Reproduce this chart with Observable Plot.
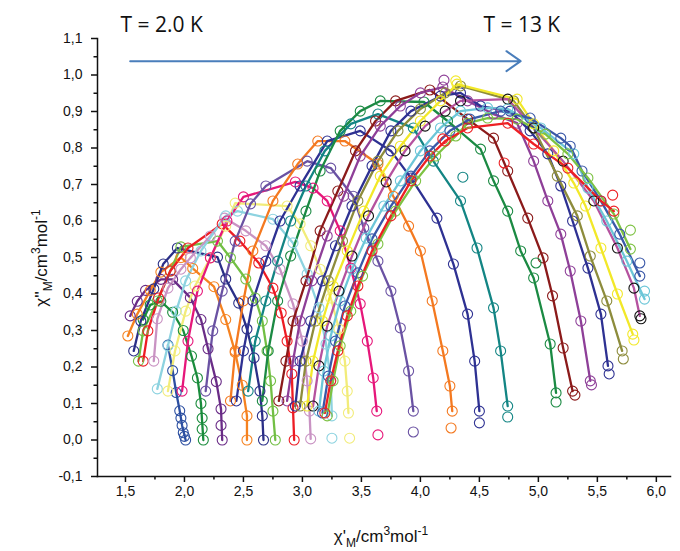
<!DOCTYPE html>
<html>
<head>
<meta charset="utf-8">
<script src="https://cdn.jsdelivr.net/npm/d3@7"></script>
<script src="https://cdn.jsdelivr.net/npm/@observablehq/plot@0.6"></script>
<style>
  html, body { margin: 0; padding: 0; background: #fff; }
  #chart { width: 680px; height: 551px; }
</style>
</head>
<body>
<div id="chart"></div>
<script>
// ---- tick values ----
const xMajor = [1.5, 2.0, 2.5, 3.0, 3.5, 4.0, 4.5, 5.0, 5.5, 6.0];
const xMinor = [1.75, 2.25, 2.75, 3.25, 3.75, 4.25, 4.75, 5.25, 5.75];
const yMajor = [-0.1, 0.0, 0.1, 0.2, 0.3, 0.4, 0.5, 0.6, 0.7, 0.8, 0.9, 1.0, 1.1];
const yMinor = [-0.05, 0.05, 0.15, 0.25, 0.35, 0.45, 0.55, 0.65, 0.75, 0.85, 0.95, 1.05];

// ---- series (chi', chi'') from 2.0 K (s01) to 13 K (s26) ----
const s01 = [[1.86,0.26],[1.90,0.19],[1.93,0.13],[1.96,0.08],[1.98,0.04],[2.01,0.00]];
const s02 = [[1.65,0.33],[1.71,0.37],[1.80,0.38],[1.90,0.35],[1.99,0.30],[2.06,0.23],[2.11,0.17],[2.14,0.10],[2.16,0.00]];
const s03 = [[1.54,0.34],[1.60,0.38],[1.67,0.41],[1.80,0.44],[1.90,0.44],[2.05,0.39],[2.14,0.33],[2.20,0.25],[2.27,0.16],[2.31,0.085],[2.32,0.00]];
const s04 = [[1.52,0.285],[1.60,0.345],[1.71,0.41],[1.80,0.46],[1.97,0.50],[2.07,0.47],[2.25,0.42],[2.35,0.33],[2.43,0.24],[2.49,0.15],[2.53,0.066],[2.53,0.00]];
const s05 = [[1.57,0.244],[1.63,0.326],[1.74,0.414],[1.82,0.482],[1.94,0.526],[2.28,0.501],[2.35,0.441],[2.46,0.375],[2.53,0.304],[2.59,0.225],[2.64,0.134],[2.66,0.066],[2.67,0.00]];
const s06 = [[1.61,0.216],[1.65,0.299],[1.77,0.381],[1.88,0.463],[1.97,0.529],[2.28,0.545],[2.39,0.499],[2.52,0.441],[2.60,0.389],[2.66,0.326],[2.70,0.244],[2.73,0.162],[2.75,0.079],[2.77,0.00]];
const s07 = [[1.65,0.216],[1.69,0.299],[1.78,0.389],[1.88,0.463],[2.03,0.526],[2.32,0.592],[2.47,0.545],[2.63,0.485],[2.75,0.416],[2.82,0.348],[2.87,0.271],[2.91,0.181],[2.92,0.088],[2.93,0.00]];
const s08 = [[1.74,0.216],[1.77,0.332],[1.86,0.416],[1.97,0.468],[2.05,0.499],[2.22,0.559],[2.34,0.608],[2.52,0.573],[2.69,0.532],[2.81,0.468],[2.92,0.373],[3.00,0.271],[3.04,0.162],[3.06,0.079],[3.07,0.003]];
const s09 = [[1.77,0.140],[1.86,0.258],[1.93,0.353],[2.01,0.436],[2.14,0.518],[2.35,0.614],[2.45,0.627],[2.75,0.605],[2.92,0.540],[3.04,0.455],[3.14,0.362],[3.20,0.263],[3.24,0.162],[3.25,0.066]];
const s10 = [[1.86,0.134],[1.92,0.244],[2.01,0.353],[2.09,0.422],[2.22,0.499],[2.35,0.586],[2.43,0.649],[2.87,0.641],[2.98,0.592],[3.07,0.532],[3.15,0.468],[3.24,0.389],[3.31,0.304],[3.36,0.216],[3.38,0.134],[3.39,0.074]];
const s11 = [[1.98,0.134],[2.03,0.271],[2.11,0.408],[2.22,0.499],[2.36,0.600],[2.50,0.666],[2.94,0.707],[3.09,0.690],[3.21,0.655],[3.32,0.573],[3.41,0.471],[3.49,0.373],[3.55,0.271],[3.60,0.170],[3.63,0.079]];
const s12 = [[2.18,0.134],[2.24,0.299],[2.32,0.408],[2.43,0.545],[2.56,0.647],[2.69,0.696],[3.04,0.764],[3.24,0.745],[3.43,0.668],[3.52,0.581],[3.64,0.490],[3.75,0.408],[3.83,0.307],[3.90,0.189],[3.94,0.079]];
const s13 = [[2.39,0.107],[2.43,0.244],[2.50,0.381],[2.58,0.518],[2.75,0.655],[2.96,0.756],[3.13,0.819],[3.36,0.819],[3.64,0.756],[3.77,0.668],[3.90,0.586],[4.00,0.518],[4.10,0.381],[4.19,0.244],[4.25,0.148],[4.27,0.079]];
const s14 = [[2.44,0.107],[2.50,0.244],[2.58,0.381],[2.69,0.490],[2.81,0.600],[2.98,0.696],[3.21,0.819],[3.49,0.847],[3.75,0.792],[3.92,0.718],[4.14,0.608],[4.28,0.482],[4.40,0.345],[4.46,0.216],[4.50,0.079]];
const s15 = [[2.54,0.134],[2.60,0.271],[2.69,0.381],[2.79,0.490],[2.90,0.600],[3.03,0.696],[3.19,0.792],[3.41,0.866],[3.64,0.893],[3.94,0.855],[4.11,0.764],[4.34,0.655],[4.48,0.526],[4.62,0.362],[4.68,0.244],[4.74,0.093]];
const s16 = [[2.66,0.107],[2.71,0.244],[2.79,0.381],[2.90,0.504],[3.03,0.627],[3.15,0.737],[3.32,0.847],[3.49,0.901],[3.66,0.929],[4.03,0.926],[4.23,0.874],[4.51,0.797],[4.62,0.710],[4.74,0.627],[4.85,0.518],[4.96,0.444],[5.10,0.263],[5.15,0.129]];
const s17 = [[2.80,0.107],[2.86,0.216],[2.92,0.326],[3.03,0.436],[3.15,0.573],[3.30,0.682],[3.45,0.792],[3.62,0.874],[3.79,0.929],[4.08,0.959],[4.40,0.879],[4.62,0.827],[4.74,0.737],[4.91,0.608],[5.04,0.499],[5.12,0.395],[5.21,0.252],[5.29,0.134]];
const s18 = [[2.87,0.107],[2.92,0.216],[2.98,0.326],[3.08,0.436],[3.21,0.559],[3.35,0.668],[3.49,0.778],[3.66,0.860],[3.83,0.915],[4.00,0.951],[4.19,0.967],[4.40,0.929],[4.62,0.893],[4.82,0.868],[4.96,0.764],[5.08,0.655],[5.19,0.564],[5.27,0.463],[5.36,0.326],[5.44,0.162]];
const s19 = [[2.94,0.093],[2.98,0.216],[3.07,0.326],[3.17,0.436],[3.28,0.532],[3.42,0.641],[3.59,0.751],[3.75,0.847],[3.92,0.901],[4.17,0.942],[4.34,0.951],[4.51,0.915],[4.76,0.901],[4.93,0.847],[5.08,0.784],[5.19,0.696],[5.29,0.600],[5.42,0.471],[5.53,0.345],[5.59,0.203]];
const s20 = [[2.98,0.093],[3.03,0.216],[3.11,0.326],[3.22,0.436],[3.34,0.545],[3.47,0.655],[3.64,0.764],[3.81,0.847],[4.00,0.907],[4.21,0.951],[4.34,0.970],[4.79,0.929],[4.96,0.855],[5.16,0.723],[5.33,0.614],[5.44,0.504],[5.58,0.381],[5.71,0.244]];
const s21 = [[3.04,0.093],[3.09,0.216],[3.17,0.326],[3.26,0.422],[3.38,0.518],[3.52,0.627],[3.66,0.723],[3.83,0.805],[4.00,0.874],[4.17,0.929],[4.31,0.975],[4.82,0.934],[4.96,0.866],[5.13,0.792],[5.30,0.704],[5.40,0.641],[5.53,0.526],[5.67,0.400],[5.80,0.290]];
const s22 = [[3.09,0.093],[3.14,0.203],[3.21,0.312],[3.31,0.408],[3.42,0.504],[3.56,0.614],[3.71,0.707],[3.87,0.792],[4.04,0.860],[4.21,0.901],[4.34,0.929],[4.74,0.934],[4.96,0.855],[5.21,0.764],[5.47,0.655],[5.67,0.526],[5.81,0.416],[5.86,0.340]];
const s23 = [[3.14,0.079],[3.18,0.189],[3.24,0.285],[3.32,0.381],[3.42,0.468],[3.54,0.553],[3.69,0.641],[3.83,0.710],[4.00,0.792],[4.17,0.855],[4.34,0.901],[4.57,0.910],[4.74,0.907],[5.02,0.855],[5.30,0.784],[5.42,0.690],[5.58,0.600],[5.75,0.490],[5.90,0.386]];
const s24 = [[3.17,0.074],[3.22,0.175],[3.28,0.271],[3.36,0.367],[3.47,0.458],[3.59,0.551],[3.75,0.641],[3.92,0.723],[4.08,0.792],[4.25,0.847],[4.42,0.879],[4.68,0.901],[4.93,0.882],[5.19,0.827],[5.27,0.805],[5.37,0.737],[5.53,0.655],[5.69,0.564],[5.86,0.449]];
const s25 = [[3.21,0.066],[3.26,0.162],[3.32,0.258],[3.41,0.353],[3.51,0.449],[3.64,0.537],[3.79,0.627],[3.96,0.710],[4.13,0.778],[4.30,0.833],[4.40,0.868],[4.57,0.882],[4.82,0.879],[5.06,0.838],[5.25,0.784],[5.42,0.718],[5.64,0.619],[5.78,0.523]];
const s26 = [[3.19,0.074],[3.24,0.162],[3.30,0.244],[3.38,0.340],[3.47,0.422],[3.59,0.518],[3.75,0.614],[3.92,0.710],[4.08,0.778],[4.21,0.819],[4.40,0.855],[4.74,0.868],[4.96,0.811],[5.25,0.745],[5.53,0.655],[5.64,0.627]];

// measured points lying off the fitted lines: [series index, chi', chi'']
const extraPts = [
  [8,3.25,0.005],[9,3.40,0.005],[10,3.64,0.014],[11,3.94,0.022],[12,4.26,0.033],
  [13,4.50,0.047],[14,4.74,0.063],[14,4.36,0.72],[15,5.15,0.104],[15,4.98,0.485],
  [16,5.31,0.123],[17,5.45,0.151],[17,4.20,0.986],[18,5.60,0.181],[19,5.72,0.222],
  [20,5.81,0.274],[20,4.30,0.984],[21,5.87,0.332],[22,5.90,0.408],[23,5.86,0.485],
  [24,5.78,0.575],[25,5.63,0.671],[25,4.19,0.825],[25,4.71,0.759],
  [0,1.99,0.02],[0,2.00,0.01],[0,1.97,0.06],[1,2.15,0.03],[1,2.15,0.06],[2,2.31,0.04]
];

const lineColors = ["#2c4fa1","#1a8c3c","#6a2c87","#f58220","#2b2f87","#72bf44","#ed1c24","#c993c3",
  "#8dd3e0","#f2ec7a","#e6177a","#6a52a3","#f47920","#2e3192","#138584","#1b8a43","#8b1a1a",
  "#8e3f98","#2e3192","#8d8c3c","#f2e829","#b5529f","#6cc6d8","#3a58a8","#7dc242","#ed2024"];
const dotColors = lineColors.map((c, i) => i === 21 ? "#111111" : c);

// annotations
const annotations = [
  {x: 1.458, y: 1.137, text: "T = 2.0 K"},
  {x: 4.534, y: 1.137, text: "T = 13 K"}
];
const arrowData = [{x1: 1.54, y1: 1.038, x2: 4.85, y2: 1.038}];

// ---- build tables ----
const allSeries = [s01,s02,s03,s04,s05,s06,s07,s08,s09,s10,s11,s12,s13,s14,s15,s16,s17,s18,s19,s20,s21,s22,s23,s24,s25,s26];
const lineData = allSeries.flatMap((s, k) => s.map(([x, y]) => ({x, y, k, c: lineColors[k]})));
const dotData = allSeries.flatMap((s, k) => s.map(([x, y]) => ({x, y, k, c: dotColors[k]})))
  .concat(extraPts.map(([k, x, y]) => ({x, y, k, c: dotColors[k]})));

const fmt = d => d.toFixed(1).replace(".", ",");
const font = "'Liberation Sans', Arial, sans-serif";

const chart = Plot.plot({
  width: 680,
  height: 551,
  marginLeft: 97,
  marginRight: 10,
  marginTop: 38,
  marginBottom: 75,
  x: {domain: [1.263, 6.12]},
  y: {domain: [-0.1, 1.1]},
  color: {type: "identity"},
  style: {fontFamily: font, fontSize: "14px", background: "white", color: "#111"},
  marks: [
    Plot.axisX(xMajor, {tickSize: 6, tickPadding: 4, tickFormat: fmt, label: null, strokeWidth: 1.5, fontSize: 14}),
    Plot.axisX(xMinor, {tickSize: 3.5, tickFormat: () => "", label: null, strokeWidth: 1.5}),
    Plot.axisY(yMajor, {tickSize: 6, tickPadding: 9, tickFormat: fmt, label: null, strokeWidth: 1.5, fontSize: 14}),
    Plot.axisY(yMinor, {tickSize: 3.5, tickFormat: () => "", label: null, strokeWidth: 1.5}),
    Plot.frame({anchor: "left", strokeWidth: 1.5}),
    Plot.frame({anchor: "bottom", strokeWidth: 1.5}),
    Plot.line(lineData, {x: "x", y: "y", z: "k", stroke: "c", strokeWidth: 2.3}),
    Plot.dot(dotData, {x: "x", y: "y", r: 5, stroke: "c", strokeWidth: 1.1, fill: "none"}),
    Plot.arrow(arrowData, {x1: "x1", y1: "y1", x2: "x2", y2: "y2", stroke: "#4a7ebb", strokeWidth: 2, headLength: 13, headAngle: 70, insetEnd: 0}),
    Plot.text(annotations, {x: "x", y: "y", text: "text", textAnchor: "start", fontSize: 21, fontFamily: "'Open Sans', sans-serif", fill: "#111"})
  ]
});

document.getElementById("chart").appendChild(chart);

// axis titles with sub/superscripts
const svg = d3.select(chart);
function addLabel(g, parts) {
  for (const [txt, mode] of parts) {
    const t = g.append("tspan").text(txt);
    if (mode === "sub") t.attr("dy", 5).attr("font-size", "12px");
    else if (mode === "sup") t.attr("dy", -7).attr("font-size", "12px");
    else if (mode === "backFromSub") t.attr("dy", -5);
    else if (mode === "backFromSup") t.attr("dy", 7);
  }
}
const yl = svg.append("text")
  .attr("transform", "translate(47,258) rotate(-90)")
  .attr("text-anchor", "middle")
  .attr("font-family", font).attr("font-size", "17px").attr("fill", "#111");
addLabel(yl, [["\u03C7''", ""], ["M", "sub"], ["/cm", "backFromSub"], ["3", "sup"], ["mol", "backFromSup"], ["-1", "sup"]]);

const xl = svg.append("text")
  .attr("x", 381).attr("y", 542)
  .attr("text-anchor", "middle")
  .attr("font-family", font).attr("font-size", "17px").attr("fill", "#111");
addLabel(xl, [["\u03C7'", ""], ["M", "sub"], ["/cm", "backFromSub"], ["3", "sup"], ["mol", "backFromSup"], ["-1", "sup"]]);
</script>
</body>
</html>
